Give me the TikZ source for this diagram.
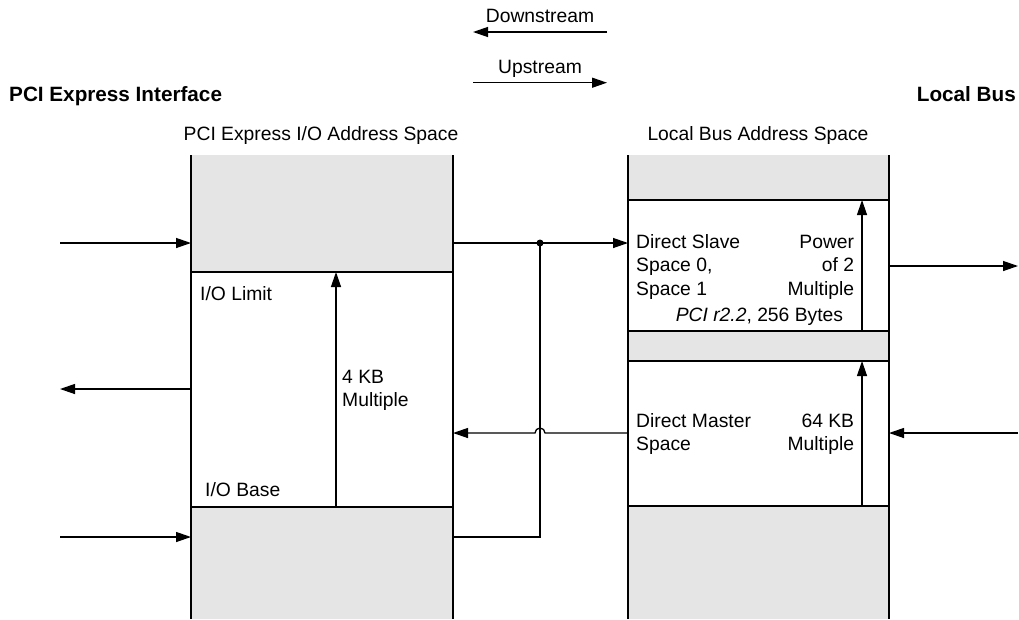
\documentclass[tikz,border=0pt]{standalone}
\usepackage{fontspec}
\setmainfont{Liberation Sans}
\usetikzlibrary{arrows.meta}
\definecolor{shade}{HTML}{E5E5E5}
\begin{document}
\begin{tikzpicture}[x=1pt,y=-1pt,
  lbl/.style={inner sep=0pt, font=\fontsize{19.3}{23}\selectfont},
  head/.style={inner sep=0pt, font=\fontsize{20.7}{25}\selectfont\bfseries},
  region/.style={inner sep=0pt, outer sep=0pt, draw=none},
  border/.style={line width=2pt, black},
  conn/.style={line width=1.3pt, black},
  tip/.style={-{Triangle[length=15pt,width=10pt]}}
]
\useasboundingbox (0,0) rectangle (1019,619);

% ---- left column regions
\node[region, fill=shade, minimum width=262pt, minimum height=117pt] (ltop) at (322,213.5) {};
\node[region, fill=white, minimum width=262pt, minimum height=235pt] (lmid) at (322,389.5) {};
\node[region, fill=shade, minimum width=262pt, minimum height=112pt] (lbot) at (322,563) {};
% ---- right column regions
\node[region, fill=shade, minimum width=261pt, minimum height=45pt] (rtop) at (758.5,177.5) {};
\node[region, fill=white, minimum width=261pt, minimum height=131pt] (rds) at (758.5,265.5) {};
\node[region, fill=shade, minimum width=261pt, minimum height=30pt] (rgap) at (758.5,346) {};
\node[region, fill=white, minimum width=261pt, minimum height=145pt] (rdm) at (758.5,433.5) {};
\node[region, fill=shade, minimum width=261pt, minimum height=113pt] (rbot) at (758.5,562.5) {};

% ---- inner range arrows
\coordinate (la) at (336,0);
\coordinate (ra) at (862,0);
\draw[conn, tip] (la |- lbot.north) -- (la |- ltop.south);
\draw[conn, tip] (ra |- rds.south) -- (ra |- rds.north);
\draw[conn, tip] (ra |- rdm.south) -- (ra |- rdm.north);

% ---- column borders
\draw[border] (ltop.north west) -- (lbot.south west);
\draw[border] (ltop.north east) -- (lbot.south east);
\draw[border] (ltop.south west) -- (ltop.south east);
\draw[border] (lbot.north west) -- (lbot.north east);
\draw[border] (rtop.north west) -- (rbot.south west);
\draw[border] (rtop.north east) -- (rbot.south east);
\draw[border] (rtop.south west) -- (rtop.south east);
\draw[border] (rgap.north west) -- (rgap.north east);
\draw[border] (rgap.south west) -- (rgap.south east);
\draw[border] (rbot.north west) -- (rbot.north east);

% ---- left side connectors
\coordinate (pin1) at (60,243);
\coordinate (pout) at (60,389);
\coordinate (pin2) at (60,537);
\draw[conn, tip] (pin1) -- (pin1 -| ltop.west);
\draw[conn, tip] (pout -| lmid.west) -- (pout);
\draw[conn, tip] (pin2) -- (pin2 -| lbot.west);

% ---- middle connectors
\coordinate (J) at (540,243);
\coordinate (jb) at (540,537);
\coordinate (bk) at (0,433);
\coordinate (hopR) at (545,433);
\draw[conn, tip] (J -| ltop.east) -- (J -| rds.west);
\draw[conn] (jb -| lbot.east) -- (jb) -- (J);
\fill (J) circle (3.5pt);
\draw[conn, tip] (bk -| rdm.west) -- (hopR) arc[start angle=0, end angle=180, radius=5pt] -- (bk -| lmid.east);

% ---- right side connectors
\coordinate (rout) at (1018,266);
\coordinate (rin) at (1018,433);
\draw[conn, tip] (rout -| rds.east) -- (rout);
\draw[conn, tip] (rin) -- (rin -| rdm.east);

% ---- legend
\node[lbl, anchor=base] (ds) at (540,22.7) {Downstream};
\node[lbl, anchor=base] (us) at (540,73.3) {Upstream};
\coordinate (dsR) at (607,32);
\coordinate (dsL) at (473,32);
\coordinate (usL) at (473,82.7);
\coordinate (usR) at (607,82.7);
\draw[conn, tip] (dsR) -- (dsL);
\draw[conn, tip] (usL) -- (usR);

% ---- headings
\node[head, anchor=base west] (pcie) at (9,101) {PCI Express Interface};
\node[head, anchor=base east] (lbus) at (1016,101) {Local Bus};
\node[lbl, anchor=base] (lspace) at (321,140) {PCI Express I/O Address Space};
\node[lbl, anchor=base] (rspace) at (758,140) {Local Bus Address Space};

% ---- left column labels
\node[lbl, anchor=base west] (iolim) at (200,300.7) {I/O Limit};
\node[lbl, anchor=base west] (kb4a) at (342,383) {4 KB};
\node[lbl, anchor=base west] (kb4b) at (342,406) {Multiple};
\node[lbl, anchor=base west] (iobase) at (205,496.7) {I/O Base};

% ---- right column labels
\node[lbl, anchor=base west] (ds1) at (636,248.3) {Direct Slave};
\node[lbl, anchor=base west] (ds2) at (636,271.7) {Space 0,};
\node[lbl, anchor=base west] (ds3) at (636,295) {Space 1};
\node[lbl, anchor=base east] (pw1) at (854.3,248.3) {Power};
\node[lbl, anchor=base east] (pw2) at (854.3,271.7) {of 2};
\node[lbl, anchor=base east] (pw3) at (854.3,295) {Multiple};
\node[lbl, anchor=base east] (pci) at (843.3,321.7) {\textit{PCI r2.2}, 256 Bytes};
\node[lbl, anchor=base west] (dm1) at (636,427.3) {Direct Master};
\node[lbl, anchor=base west] (dm2) at (636,450.7) {Space};
\node[lbl, anchor=base east] (kb64a) at (854.3,427.3) {64 KB};
\node[lbl, anchor=base east] (kb64b) at (854.3,450.7) {Multiple};
\end{tikzpicture}
\end{document}
